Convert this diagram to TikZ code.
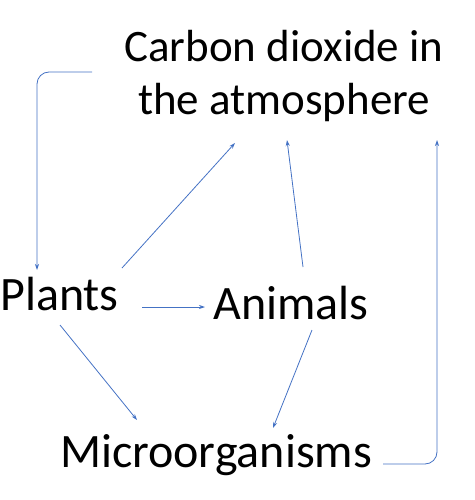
\documentclass[tikz,border=0pt]{standalone}
\usepackage{fontspec}
\setmainfont{Carlito}
\usetikzlibrary{arrows.meta}
\definecolor{ar}{HTML}{4472C4}
\begin{document}
\begin{tikzpicture}[x=1pt,y=-1pt,
  lbl/.style={font=\fontsize{48}{53}\selectfont,inner sep=0pt,align=center},
  con/.style={draw=ar,line width=0.8pt,-{Stealth[length=6pt,width=4pt]}}]
\useasboundingbox (0,0) rectangle (474,500);
\node[lbl,font=\fontsize{45}{53}\selectfont] (co2) at (284,76) {Carbon dioxide in\\the atmosphere};
\node[lbl,anchor=west] (pl) at (0,294) {Plants};
\node[lbl] (an) at (291,303) {Animals};
\node[lbl] (mi) at (216,455) {Microorganisms};
\coordinate (c1) at (92,72);
\coordinate (c2) at (383,464);
\draw[con,rounded corners=12pt] (c1) -- (37,72) -- (37,270);
\draw[con,rounded corners=12pt] (c2) -- (437,464) -- (437,140);
\draw[con] (122,268) -- (235,143);
\draw[con] (142,307) -- (205,307);
\draw[con] (60,325) -- (137,420);
\draw[con] (303,267) -- (287,140);
\draw[con] (312,330) -- (273,428);
\end{tikzpicture}
\end{document}
